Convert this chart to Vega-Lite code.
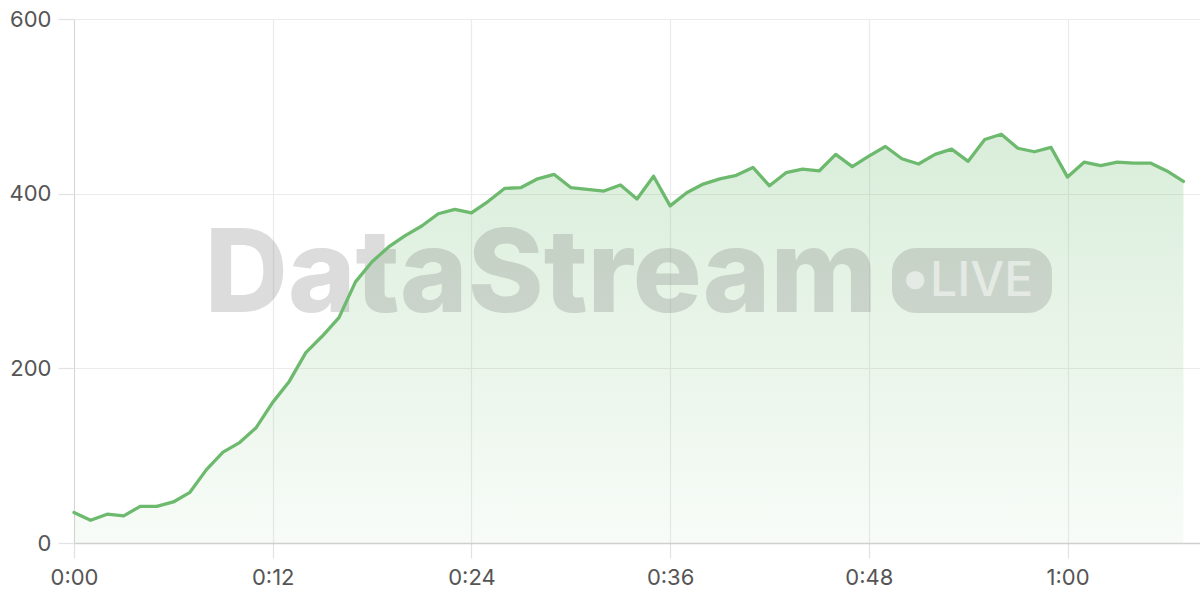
{
  "$schema": "https://vega.github.io/schema/vega-lite/v6.json",
  "width": 1126,
  "height": 524,
  "autosize": {"type": "none"},
  "padding": {"left": 74, "top": 19, "right": 0, "bottom": 57},
  "background": "#ffffff",
  "datasets": {
    "series": [
      {"minute": 0, "value": 35}, {"minute": 1, "value": 26}, {"minute": 2, "value": 33}, {"minute": 3, "value": 31},
      {"minute": 4, "value": 42}, {"minute": 5, "value": 42}, {"minute": 6, "value": 47}, {"minute": 7, "value": 58},
      {"minute": 8, "value": 84}, {"minute": 9, "value": 104}, {"minute": 10, "value": 115}, {"minute": 11, "value": 132},
      {"minute": 12, "value": 161}, {"minute": 13, "value": 185}, {"minute": 14, "value": 218}, {"minute": 15, "value": 237},
      {"minute": 16, "value": 258}, {"minute": 17, "value": 299}, {"minute": 18, "value": 322}, {"minute": 19, "value": 339},
      {"minute": 20, "value": 352}, {"minute": 21, "value": 363}, {"minute": 22, "value": 377}, {"minute": 23, "value": 382},
      {"minute": 24, "value": 378}, {"minute": 25, "value": 391}, {"minute": 26, "value": 406}, {"minute": 27, "value": 407},
      {"minute": 28, "value": 417}, {"minute": 29, "value": 422}, {"minute": 30, "value": 407}, {"minute": 31, "value": 405},
      {"minute": 32, "value": 403}, {"minute": 33, "value": 410}, {"minute": 34, "value": 394}, {"minute": 35, "value": 420},
      {"minute": 36, "value": 386}, {"minute": 37, "value": 401}, {"minute": 38, "value": 411}, {"minute": 39, "value": 417},
      {"minute": 40, "value": 421}, {"minute": 41, "value": 430}, {"minute": 42, "value": 409}, {"minute": 43, "value": 424},
      {"minute": 44, "value": 428}, {"minute": 45, "value": 426}, {"minute": 46, "value": 445}, {"minute": 47, "value": 431},
      {"minute": 48, "value": 443}, {"minute": 49, "value": 454}, {"minute": 50, "value": 440}, {"minute": 51, "value": 434},
      {"minute": 52, "value": 445}, {"minute": 53, "value": 451}, {"minute": 54, "value": 437}, {"minute": 55, "value": 462},
      {"minute": 56, "value": 468}, {"minute": 57, "value": 452}, {"minute": 58, "value": 448}, {"minute": 59, "value": 453},
      {"minute": 60, "value": 419}, {"minute": 61, "value": 436}, {"minute": 62, "value": 432}, {"minute": 63, "value": 436},
      {"minute": 64, "value": 435}, {"minute": 65, "value": 435}, {"minute": 66, "value": 426}, {"minute": 67, "value": 414}
    ]
  },
  "layer": [
    {
      "data": {"name": "series"},
      "mark": {
        "type": "area",
        "fill": {
          "gradient": "linear", "x1": 0, "y1": 0, "x2": 0, "y2": 1,
          "stops": [
            {"offset": 0, "color": "rgba(109,187,111,0.26)"},
            {"offset": 1, "color": "rgba(109,187,111,0.05)"}
          ]
        }
      },
      "encoding": {
        "x": {
          "field": "minute", "type": "quantitative",
          "scale": {"domain": [0, 68], "nice": false, "zero": false},
          "axis": {
            "title": null,
            "values": [0, 12, 24, 36, 48, 60],
            "labelExpr": "floor(datum.value/60) + ':' + (datum.value % 60 < 10 ? '0' : '') + (datum.value % 60)",
            "tickSize": 15, "labelPadding": 9, "grid": true, "domainWidth": 1.5, "domainColor": "#cfcfcf",
            "labelFlush": false, "labelOverlap": false
          }
        },
        "y": {
          "field": "value", "type": "quantitative",
          "scale": {"domain": [0, 600], "nice": false},
          "axis": {
            "title": null,
            "values": [0, 200, 400, 600],
            "tickSize": 16, "labelPadding": 7, "grid": true, "domainColor": "#d6d6d6",
            "labelFlush": false, "labelOverlap": false
          }
        }
      }
    },
    {
      "data": {"values": [{}]},
      "mark": {
        "type": "text", "text": "DataStream", "align": "left", "baseline": "alphabetic",
        "font": "Inter", "fontSize": 115, "fontWeight": 800, "fill": "#808080", "opacity": 0.27, "letterSpacing": -3
      },
      "encoding": {"x": {"datum": 7.9}, "y": {"datum": 265}}
    },
    {
      "data": {"values": [{}]},
      "mark": {"type": "rect", "cornerRadius": 24, "fill": "#808080", "opacity": 0.27},
      "encoding": {
        "x": {"datum": 49.4}, "x2": {"datum": 59.06},
        "y": {"datum": 337.8}, "y2": {"datum": 263.4}
      }
    },
    {
      "data": {"values": [{}]},
      "mark": {"type": "point", "filled": true, "size": 340, "fill": "#ffffff", "opacity": 0.5, "strokeWidth": 0},
      "encoding": {"x": {"datum": 50.8}, "y": {"datum": 301}}
    },
    {
      "data": {"values": [{}]},
      "mark": {
        "type": "text", "text": "LIVE", "align": "left", "baseline": "alphabetic",
        "font": "Inter", "fontSize": 48, "fontWeight": 500, "fill": "#ffffff", "opacity": 0.5, "letterSpacing": 1.5
      },
      "encoding": {"x": {"datum": 51.7}, "y": {"datum": 283}}
    },
    {
      "data": {"name": "series"},
      "mark": {"type": "line", "color": "#6dba6f", "strokeWidth": 3.3, "strokeJoin": "round", "strokeCap": "round"},
      "encoding": {
        "x": {"field": "minute", "type": "quantitative", "title": null},
        "y": {"field": "value", "type": "quantitative", "title": null}
      }
    }
  ],
  "config": {
    "view": {"stroke": null},
    "axis": {
      "labelFont": "Inter", "labelFontSize": 22, "labelColor": "#555555",
      "gridColor": "#ebebeb", "gridWidth": 1.2, "tickColor": "#e2e2e2", "tickWidth": 1.2
    }
  }
}
